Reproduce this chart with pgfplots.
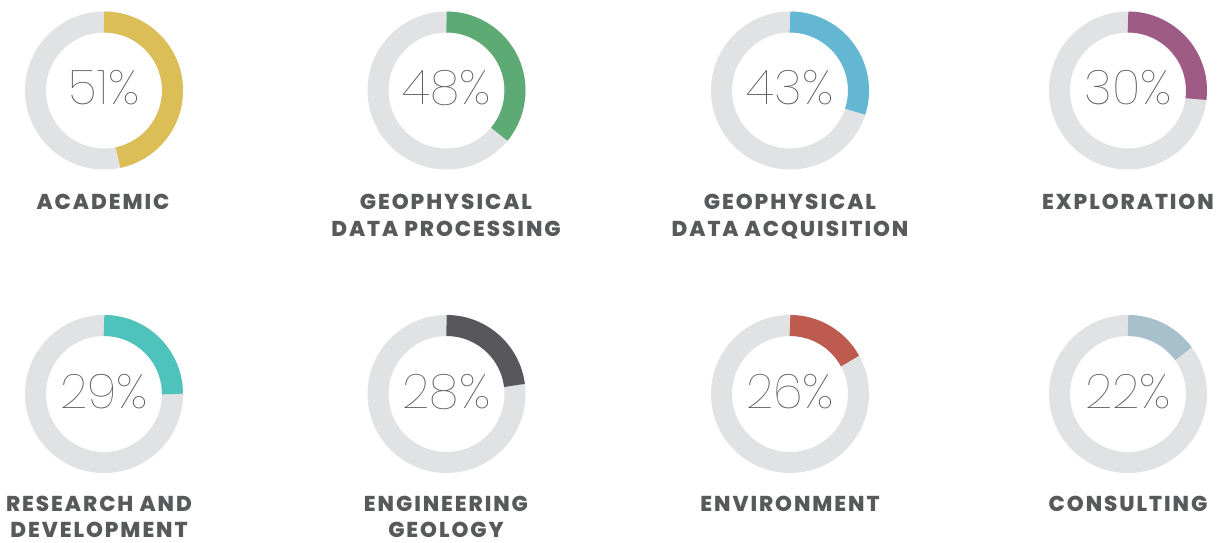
\documentclass[border=0pt]{standalone}
\usepackage{pgfplots}
\pgfplotsset{compat=1.18}
\usepackage{pgfplotstable}
\usepackage{fontspec}
\setmainfont{Poppins}
\newfontfamily\pctfont{Poppins Thin}
\newfontfamily\labfont{Poppins ExtraBold}[LetterSpace=9]
\definecolor{ringgray}{HTML}{E1E2E4}
\definecolor{txtgray}{HTML}{58595B}
\definecolor{cc0}{HTML}{DBBE55}
\definecolor{cc1}{HTML}{5EAA74}
\definecolor{cc2}{HTML}{63B7D3}
\definecolor{cc3}{HTML}{9E5B85}
\definecolor{cc4}{HTML}{4DC3BC}
\definecolor{cc5}{HTML}{58585C}
\definecolor{cc6}{HTML}{BD5B4F}
\definecolor{cc7}{HTML}{A8C0CC}
\pgfdeclareplotmark{nothing}{}
\tikzset{lab/.style={font=\labfont\fontsize{21.5}{21.5}\selectfont, text=txtgray, anchor=base, inner sep=0pt}}
\pgfplotsset{
  donut/.style={
    scatter, only marks, mark=nothing,
    point meta=explicit, point meta min=0, point meta max=100,
    scatter/@pre marker code/.code={%
      \draw[ringgray, line width=21pt] (0,0) circle[radius=68.5pt];%
      \pgfmathsetmacro\darc{-0.36*\pgfplotspointmetatransformed}%
      \draw[#1, line width=21pt] (0,68.5pt) arc[start angle=90, delta angle=\darc, radius=68.5pt];%
    },
    scatter/@post marker code/.code={},
  },
}
% centre of each donut (px) and the printed percentage
\pgfplotstableread{
x      y     pct
104    90.5  51
446.5  90.5  48
790    90.5  43
1128   90.5  30
104    394   29
446.5  394   28
790    394   26
1128   394   22
}\pcts
\begin{document}
\begin{tikzpicture}
\path[use as bounding box] (0,0) rectangle (1219pt,543pt);
\begin{axis}[
  at={(0,0)}, anchor=south west,
  scale only axis, width=1219pt, height=543pt,
  xmin=0, xmax=1219, ymin=0, ymax=543, y dir=reverse,
  hide axis, clip=false,
]
% meta = share of the ring that is coloured, as drawn in the reference
\addplot[donut=cc0] coordinates {(104,90.5) [46.7]};
\addplot[donut=cc1] coordinates {(446.5,90.5) [36]};
\addplot[donut=cc2] coordinates {(790,90.5) [30]};
\addplot[donut=cc3] coordinates {(1128,90.5) [27]};
\addplot[donut=cc4] coordinates {(104,394) [25]};
\addplot[donut=cc5] coordinates {(446.5,394) [23]};
\addplot[donut=cc6] coordinates {(790,394) [17]};
\addplot[donut=cc7] coordinates {(1128,394) [15]};
\addplot[
  only marks, mark=nothing,
  point meta=\thisrow{pct},
  nodes near coords={\pgfmathprintnumber[assume math mode=true]{\pgfplotspointmeta}\%},
  every node near coord/.append style={font=\pctfont\fontsize{48}{48}\selectfont, text=txtgray, anchor=base, yshift=-14pt, inner sep=0pt},
] table[x=x, y=y] {\pcts};

\node[lab] at (axis cs:103,209.5) {ACADEMIC};
\node[lab] at (axis cs:446,209.5) {GEOPHYSICAL};
\node[lab] at (axis cs:446,236) {DATA PROCESSING};
\node[lab] at (axis cs:790,209.5) {GEOPHYSICAL};
\node[lab] at (axis cs:790,236) {DATA ACQUISITION};
\node[lab] at (axis cs:1128,209.5) {EXPLORATION};
\node[lab] at (axis cs:99,511) {RESEARCH AND};
\node[lab] at (axis cs:99,537) {DEVELOPMENT};
\node[lab] at (axis cs:446,511) {ENGINEERING};
\node[lab] at (axis cs:446,537) {GEOLOGY};
\node[lab] at (axis cs:790,511) {ENVIRONMENT};
\node[lab] at (axis cs:1128,511) {CONSULTING};
\end{axis}
\end{tikzpicture}
\end{document}
